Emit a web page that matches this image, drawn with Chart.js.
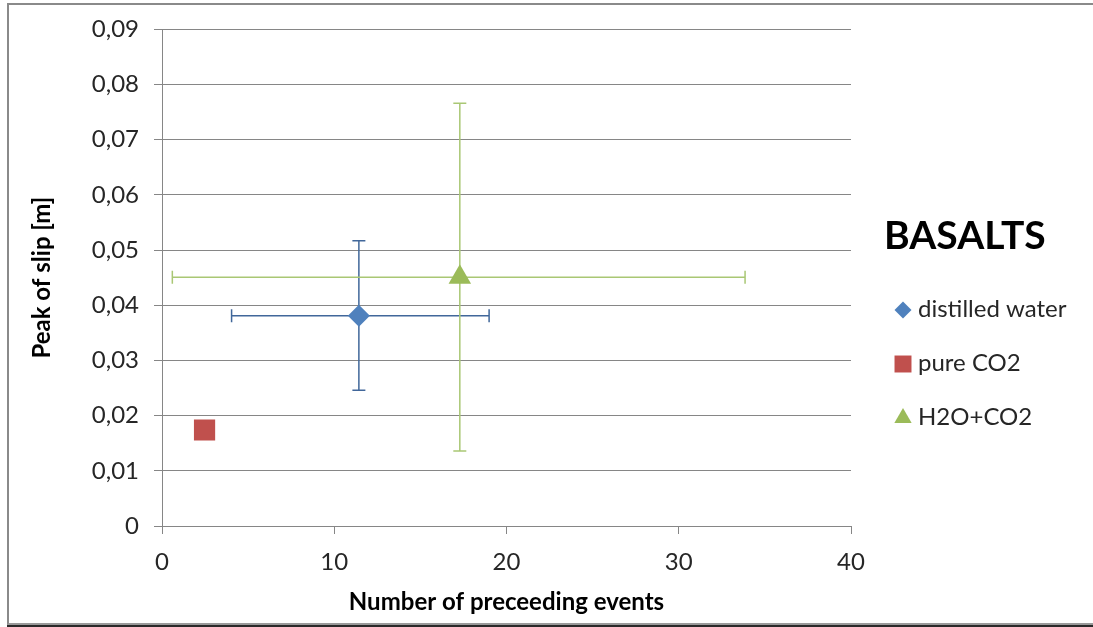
<!DOCTYPE html>
<html>
<head>
<meta charset="utf-8">
<title>Basalts - peak of slip</title>
<script src="https://cdn.jsdelivr.net/npm/chart.js@4/dist/chart.umd.min.js"></script>
<style>
  html, body { margin: 0; padding: 0; background: #fff; overflow: hidden; }
  #frame {
    position: absolute;
    left: 7px; top: 3px;
    width: 1100px; height: 618px;
    border-left: 2px solid #8a8a8a;
    border-top: 2px solid #8a8a8a;
    border-bottom: 2px solid #9a9a9a;
    box-shadow: 0 2px 0 #2a2a2a;
  }
  #slip-chart { position: absolute; left: 0; top: 0; }
</style>
</head>
<body>
<div id="frame"></div>
<canvas id="slip-chart" width="1093" height="627"></canvas>
<script>
// =========================
// DATA
// =========================

const SERIES_NAMES = ["distilled water", "pure CO2", "H2O+CO2"];
const PRECEDING_EVENTS = [11.43, 2.47, 17.29];
const PEAK_SLIP = [0.0381, 0.0174, 0.0451];

// error bar ends (null = no bar for that series)
const EVENTS_LOW = [4.04, null, 0.6];
const EVENTS_HIGH = [18.99, null, 33.85];
const SLIP_LOW = [0.0246, null, 0.0136];
const SLIP_HIGH = [0.0517, null, 0.0766];

const X_MIN = 0, X_MAX = 40, X_STEP = 10;
const Y_MIN = 0, Y_MAX = 0.09, Y_STEP = 0.01;

const LEGEND_TITLE = "BASALTS";

// =========================
// STYLE
// =========================

const MARKER_COLORS = ["#4F81BD", "#C0504D", "#9BBB59"];
const BAR_COLORS = ["#41679A", null, "#A9C774"];
const MARKER_STYLES = ["rectRot", "rect", "triangle"];
const MARKER_SIZES = [11, 15, 13];
const LEGEND_SIZES = [8.5, 12, 10];
const GRID_COLOR = "#868686";
const TEXT_COLOR = "#262626";
const FONT = "Lato, 'Open Sans', sans-serif";

function formatSlip(v) {
  if (v === 0) return "0";
  return v.toFixed(2).replace(".", ",");
}

// =========================
// PLUGINS
// =========================

// horizontal + vertical error bars with end caps
const errorBars = {
  id: "errorBars",
  beforeDatasetsDraw(chart) {
    const ctx = chart.ctx;
    const xs = chart.scales.x;
    const ys = chart.scales.y;
    const cap = 6.5;

    SERIES_NAMES.forEach((name, i) => {
      if (EVENTS_LOW[i] === null) return;
      const cx = xs.getPixelForValue(PRECEDING_EVENTS[i]);
      const cy = ys.getPixelForValue(PEAK_SLIP[i]);
      const x0 = xs.getPixelForValue(EVENTS_LOW[i]);
      const x1 = xs.getPixelForValue(EVENTS_HIGH[i]);
      const y0 = ys.getPixelForValue(SLIP_LOW[i]);
      const y1 = ys.getPixelForValue(SLIP_HIGH[i]);

      ctx.save();
      ctx.strokeStyle = BAR_COLORS[i];
      ctx.lineWidth = 1.5;
      ctx.beginPath();
      // horizontal bar
      ctx.moveTo(x0, cy); ctx.lineTo(x1, cy);
      ctx.moveTo(x0, cy - cap); ctx.lineTo(x0, cy + cap);
      ctx.moveTo(x1, cy - cap); ctx.lineTo(x1, cy + cap);
      // vertical bar
      ctx.moveTo(cx, y0); ctx.lineTo(cx, y1);
      ctx.moveTo(cx - cap, y0); ctx.lineTo(cx + cap, y0);
      ctx.moveTo(cx - cap, y1); ctx.lineTo(cx + cap, y1);
      ctx.stroke();
      ctx.restore();
    });
  },
};

// legend block on the right with the big title
const sideLegend = {
  id: "sideLegend",
  afterDraw(chart) {
    const ctx = chart.ctx;
    ctx.save();
    ctx.fillStyle = "#000";
    ctx.font = "bold 39px " + FONT;
    ctx.textAlign = "left";
    ctx.textBaseline = "middle";
    ctx.fillText(LEGEND_TITLE, 884, 236);

    const rowY = [309, 363, 417];
    ctx.font = "24px " + FONT;
    SERIES_NAMES.forEach((name, i) => {
      ctx.fillStyle = MARKER_COLORS[i];
      Chart.helpers.drawPoint(ctx, {
        pointStyle: MARKER_STYLES[i],
        radius: LEGEND_SIZES[i],
        rotation: 0,
        borderWidth: 0,
      }, 903, rowY[i] + 1);
      ctx.fillStyle = TEXT_COLOR;
      ctx.fillText(name, 918, rowY[i]);
    });
    ctx.restore();
  },
};

// =========================
// CHART
// =========================

const datasets = SERIES_NAMES.map((name, i) => ({
  label: name,
  data: [{ x: PRECEDING_EVENTS[i], y: PEAK_SLIP[i] }],
  pointStyle: MARKER_STYLES[i],
  pointRadius: MARKER_SIZES[i],
  pointHoverRadius: MARKER_SIZES[i],
  pointBackgroundColor: MARKER_COLORS[i],
  pointBorderColor: MARKER_COLORS[i],
  pointBorderWidth: 0,
  showLine: false,
}));

new Chart(document.getElementById("slip-chart"), {
  type: "scatter",
  data: { datasets },
  plugins: [errorBars, sideLegend],
  options: {
    responsive: false,
    animation: false,
    events: [],
    layout: { padding: { left: 0, right: 242, top: 28, bottom: 0 } },
    plugins: { legend: { display: false }, tooltip: { enabled: false } },
    scales: {
      x: {
        type: "linear",
        min: X_MIN,
        max: X_MAX,
        ticks: {
          stepSize: X_STEP,
          color: TEXT_COLOR,
          font: { family: FONT, size: 24 },
          padding: 14,
        },
        grid: {
          drawOnChartArea: false,
          drawTicks: true,
          tickLength: 8,
          color: GRID_COLOR,
        },
        border: { display: true, color: GRID_COLOR, width: 1 },
        title: {
          display: true,
          text: "Number of preceeding events",
          color: "#000",
          font: { family: FONT, size: 24, weight: "bold" },
          padding: { top: 0, bottom: 10 },
        },
        afterFit(scale) { scale.height = 101; },
      },
      y: {
        type: "linear",
        min: Y_MIN,
        max: Y_MAX,
        ticks: {
          stepSize: Y_STEP,
          color: TEXT_COLOR,
          font: { family: FONT, size: 24 },
          padding: 15,
          callback: (v) => formatSlip(v),
        },
        grid: {
          color: GRID_COLOR,
          tickLength: 8,
          lineWidth: 1,
        },
        border: { display: true, color: GRID_COLOR, width: 1 },
        title: {
          display: true,
          text: "Peak of slip [m]",
          color: "#000",
          font: { family: FONT, size: 24, weight: "bold" },
          padding: { top: 28, bottom: 0 },
        },
        afterFit(scale) { scale.width = 162; },
      },
    },
  },
});
</script>
</body>
</html>
